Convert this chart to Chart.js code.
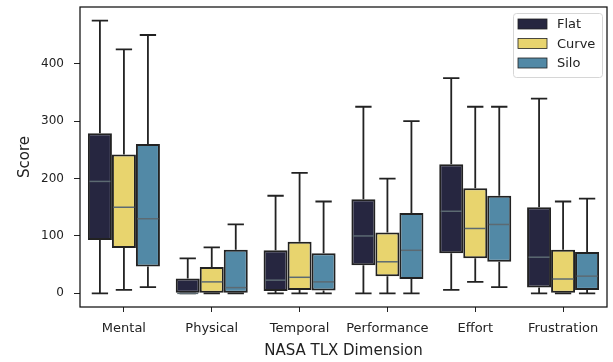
<!DOCTYPE html>
<html>
<head>
<meta charset="utf-8">
<script src="https://cdn.jsdelivr.net/npm/chart.js@4.4.1/dist/chart.umd.min.js"></script>
<style>
  html, body { margin: 0; padding: 0; background: #fff; }
  #wrap { width: 613px; height: 362px; }
</style>
</head>
<body>
<div id="wrap"><canvas id="chart" width="613" height="362"></canvas></div>
<script>
const dimensions = ['Mental', 'Physical', 'Temporal', 'Performance', 'Effort', 'Frustration'];
const seriesNames = ['Flat', 'Curve', 'Silo'];
const seriesColors = ['#262640', '#e8d46e', '#5289a6'];

// box stats per dimension: whisker low, q1, median, q3, whisker high
const flatLow = [0, 0, 0, 0, 6, 0];
const flatQ1 = [93, 0, 4, 49, 70, 10];
const flatMed = [195, 0, 23, 100, 143, 63];
const flatQ3 = [279, 26, 75, 164, 225, 150];
const flatHigh = [475, 61, 170, 325, 375, 339];

const curveLow = [6, 0, 0, 0, 20, 0];
const curveQ1 = [79, 0, 6, 30, 61, 0];
const curveMed = [150, 20, 28, 55, 113, 25];
const curveQ3 = [242, 46, 90, 106, 183, 76];
const curveHigh = [425, 80, 210, 200, 325, 160];

const siloLow = [11, 0, 0, 0, 11, 0];
const siloQ1 = [47, 0, 5, 25, 55, 6];
const siloMed = [130, 10, 20, 75, 120, 30];
const siloQ3 = [260, 76, 70, 140, 170, 72];
const siloHigh = [450, 120, 160, 300, 325, 165];

const yTicks = [0, 100, 200, 300, 400];

const stats = [
  { low: flatLow, q1: flatQ1, med: flatMed, q3: flatQ3, high: flatHigh },
  { low: curveLow, q1: curveQ1, med: curveMed, q3: curveQ3, high: curveHigh },
  { low: siloLow, q1: siloQ1, med: siloMed, q3: siloQ3, high: siloHigh }
];

const edge = '#222';
const font = 'DejaVu Sans';

const datasets = seriesNames.map((name, s) => ({
  label: name,
  data: dimensions.map((_, i) => [stats[s].q1[i], stats[s].q3[i]]),
  backgroundColor: seriesColors[s],
  borderColor: edge,
  borderWidth: 2,
  borderSkipped: false,
  categoryPercentage: 0.82,
  barPercentage: 1.0
}));

// whiskers, caps, medians, frame and legend
const boxPlugin = {
  id: 'boxExtras',
  beforeDatasetsDraw(chart) {
    const ctx = chart.ctx;
    const y = chart.scales.y;
    ctx.save();
    ctx.strokeStyle = edge;
    ctx.lineWidth = 1.8;
    chart.data.datasets.forEach((ds, s) => {
      chart.getDatasetMeta(s).data.forEach((bar, i) => {
        const st = stats[s];
        const cx = bar.x;
        const capHalf = bar.width * 0.34;
        const yl = y.getPixelForValue(st.low[i]);
        const yh = y.getPixelForValue(st.high[i]);
        const y1 = y.getPixelForValue(st.q1[i]);
        const y3 = y.getPixelForValue(st.q3[i]);
        ctx.beginPath();
        ctx.moveTo(cx, yh); ctx.lineTo(cx, y3);
        ctx.moveTo(cx, y1); ctx.lineTo(cx, yl);
        ctx.moveTo(cx - capHalf, yh); ctx.lineTo(cx + capHalf, yh);
        ctx.moveTo(cx - capHalf, yl); ctx.lineTo(cx + capHalf, yl);
        ctx.stroke();
      });
    });
    ctx.restore();
  },
  afterDatasetsDraw(chart) {
    const ctx = chart.ctx;
    const y = chart.scales.y;
    ctx.save();
    ctx.strokeStyle = '#5c6a72';
    ctx.lineWidth = 1.5;
    chart.data.datasets.forEach((ds, s) => {
      chart.getDatasetMeta(s).data.forEach((bar, i) => {
        const ym = y.getPixelForValue(stats[s].med[i]);
        const hw = bar.width / 2 - 1.5;
        ctx.beginPath();
        ctx.moveTo(bar.x - hw, ym); ctx.lineTo(bar.x + hw, ym);
        ctx.stroke();
      });
    });
    ctx.restore();
  },
  afterDraw(chart) {
    const ctx = chart.ctx;
    const a = chart.chartArea;
    ctx.save();
    ctx.strokeStyle = '#111';
    ctx.lineWidth = 1.25;
    ctx.strokeRect(a.left, a.top, a.right - a.left, a.bottom - a.top);

    // legend box in upper right
    const lw = 89, lh = 64;
    const lx = a.right - lw - 5, ly = a.top + 6;
    ctx.fillStyle = 'rgba(255,255,255,0.8)';
    ctx.strokeStyle = '#d6d6d6';
    ctx.lineWidth = 1;
    ctx.beginPath();
    ctx.roundRect(lx + 0.5, ly + 0.5, lw, lh, 3);
    ctx.fill();
    ctx.stroke();
    ctx.font = '13px "' + font + '"';
    ctx.textBaseline = 'middle';
    seriesNames.forEach((name, s) => {
      const ry = ly + 11 + s * 19.5;
      ctx.fillStyle = seriesColors[s];
      ctx.fillRect(lx + 5, ry - 5, 29, 10);
      ctx.strokeStyle = edge;
      ctx.lineWidth = 0.8;
      ctx.strokeRect(lx + 5, ry - 5, 29, 10);
      ctx.fillStyle = '#222';
      ctx.fillText(name, lx + 44, ry + 1);
    });
    ctx.restore();
  }
};

new Chart(document.getElementById('chart'), {
  type: 'bar',
  data: { labels: dimensions, datasets: datasets },
  plugins: [boxPlugin],
  options: {
    responsive: false,
    animation: false,
    layout: { padding: { left: 8, top: 7, right: 6, bottom: 0 } },
    plugins: { legend: { display: false }, tooltip: { enabled: false } },
    scales: {
      x: {
        grid: { display: true, offset: false, drawOnChartArea: false, drawTicks: true, tickLength: 5, tickColor: '#222', tickWidth: 1 },
        border: { display: false },
        ticks: { color: '#222', font: { family: font, size: 13 }, padding: 9, maxRotation: 0 },
        title: { display: true, text: 'NASA TLX Dimension', color: '#222', font: { family: font, size: 15 }, padding: { top: 2, bottom: 2 } },
        afterFit(scale) { scale.height = 55; scale.paddingLeft = 0; scale.paddingRight = 0; }
      },
      y: {
        min: -23.75,
        max: 498.75,
        afterBuildTicks(scale) { scale.ticks = yTicks.map(v => ({ value: v })); },
        grid: { display: true, drawOnChartArea: false, drawTicks: true, tickLength: 6, tickColor: '#222', tickWidth: 1 },
        border: { display: false },
        ticks: { color: '#222', font: { family: font, size: 12 }, padding: 10 },
        title: { display: true, text: 'Score', color: '#222', font: { family: font, size: 15 }, padding: { top: 8, bottom: 2 } },
        afterFit(scale) { scale.width = 72; scale.paddingTop = 0; scale.paddingBottom = 0; }
      }
    }
  }
});
</script>
</body>
</html>
